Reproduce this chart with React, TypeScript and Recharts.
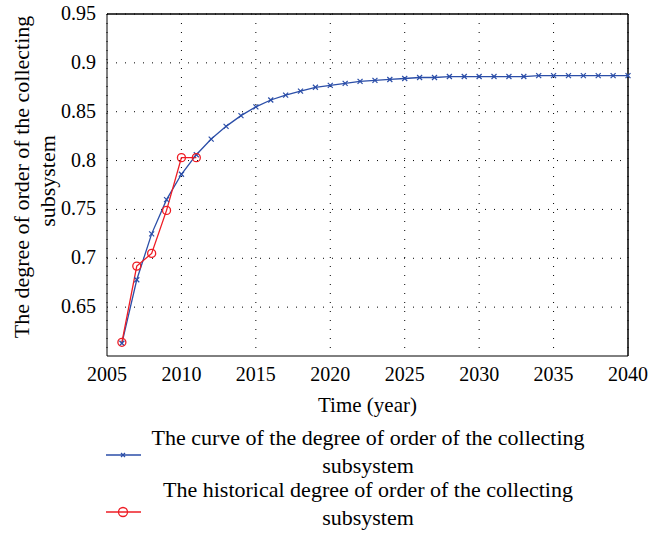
import React from 'react';
import { LineChart, Line, XAxis, YAxis, CartesianGrid, Legend, ReferenceLine } from 'recharts';

const years = [
    2006, 2007, 2008, 2009, 2010, 2011, 2012, 2013, 2014, 2015, 2016, 2017,
    2018, 2019, 2020, 2021, 2022, 2023, 2024, 2025, 2026, 2027, 2028, 2029,
    2030, 2031, 2032, 2033, 2034, 2035, 2036, 2037, 2038, 2039, 2040,
];
const curveValues = [
    0.613, 0.678, 0.725, 0.760, 0.786, 0.806, 0.822, 0.835, 0.846, 0.855, 0.862, 0.867,
    0.871, 0.875, 0.877, 0.879, 0.881, 0.882, 0.883, 0.884, 0.885, 0.885, 0.886, 0.886,
    0.886, 0.886, 0.886, 0.886, 0.887, 0.887, 0.887, 0.887, 0.887, 0.887, 0.887,
];
const historyYears = [2006, 2007, 2008, 2009, 2010, 2011];
const historyValues = [0.614, 0.692, 0.705, 0.749, 0.803, 0.803];

const xTicks = [2005, 2010, 2015, 2020, 2025, 2030, 2035, 2040];
const yTicks = [0.65, 0.7, 0.75, 0.8, 0.85, 0.9, 0.95];

const curveName = 'The curve of the degree of order of the collecting subsystem';
const historyName = 'The historical degree of order of the collecting subsystem';

const BLUE = '#2b4ea8';
const RED = '#ee1c24';
const SERIF = 'Liberation Serif';

// table the chart needs: one row per year
const data = years.map((y, i) => {
    const h = historyYears.indexOf(y);
    return { year: y, curve: curveValues[i], history: h >= 0 ? historyValues[h] : null };
});

const CrossDot = (props: any) => {
    const { cx, cy } = props;
    if (cx == null || cy == null) return null;
    const s = 2.5;
    return (
        <g>
            <line x1={cx - s} y1={cy - s} x2={cx + s} y2={cy + s} stroke={BLUE} strokeWidth={1.2} />
            <line x1={cx - s} y1={cy + s} x2={cx + s} y2={cy - s} stroke={BLUE} strokeWidth={1.2} />
        </g>
    );
};

const YLabel = () => {
    const cy = 177;
    return (
        <g>
            <text x={29} y={cy} transform={`rotate(-90, 29, ${cy})`} textAnchor="middle" fontFamily={SERIF} fontSize={22} fill="#000">
                The degree of order of the collecting
            </text>
            <text x={55} y={181} transform={`rotate(-90, 55, 181)`} textAnchor="middle" fontFamily={SERIF} fontSize={22} fill="#000">
                subsystem
            </text>
        </g>
    );
};

const XTick = (props: any) => {
    const { x, y, payload } = props;
    return (
        <text x={x} y={y + 17} textAnchor="middle" fontFamily={SERIF} fontSize={20} fill="#000">
            {payload.value}
        </text>
    );
};

const YTick = (props: any) => {
    const { x, y, payload } = props;
    return (
        <text x={x} y={y + 6} textAnchor="end" fontFamily={SERIF} fontSize={20} fill="#000">
            {String(payload.value)}
        </text>
    );
};

const XLabel = (props: any) => {
    const { viewBox } = props;
    const cx = viewBox.x + viewBox.width / 2;
    return (
        <text x={cx} y={412} textAnchor="middle" fontFamily={SERIF} fontSize={21} fill="#000">
            Time (year)
        </text>
    );
};

const LegendBox = () => {
    const entry = (label: string, color: string, marker: 'x' | 'o', top: number, markerY: number) => {
        const words = label.split(' ');
        const first = words.slice(0, -1).join(' ');
        const last = words[words.length - 1];
        return (
            <div style={{ position: 'absolute', top, left: 0, width: 649, height: 56 }}>
                <svg width={40} height={56} style={{ position: 'absolute', left: 104, top: 0 }}>
                    <line x1={2} y1={markerY} x2={37} y2={markerY} stroke={color} strokeWidth={1.3} />
                    {marker === 'x' ? (
                        <g>
                            <line x1={17} y1={markerY - 2} x2={21} y2={markerY + 2} stroke={color} strokeWidth={1.2} />
                            <line x1={17} y1={markerY + 2} x2={21} y2={markerY - 2} stroke={color} strokeWidth={1.2} />
                        </g>
                    ) : (
                        <circle cx={19} cy={markerY} r={4.5} fill="none" stroke={color} strokeWidth={1.3} />
                    )}
                </svg>
                <div style={{ position: 'absolute', left: 148, width: 440, top: 0, textAlign: 'center', fontFamily: SERIF, fontSize: 22, lineHeight: '28px', color: '#000' }}>
                    <div>{first}</div>
                    <div>{last}</div>
                </div>
            </div>
        );
    };
    return (
        <div style={{ position: 'relative', width: 649, height: 110 }}>
            {entry(curveName, BLUE, 'x', 0, 31)}
            {entry(historyName, RED, 'o', 52, 36)}
        </div>
    );
};

export default function App() {
    return (
        <div style={{ position: 'absolute', left: 0, top: 0, background: '#fff' }}>
            <LineChart width={649} height={533} data={data} margin={{ top: 14, right: 21, left: 0, bottom: 7 }}>
                <CartesianGrid stroke="#000" strokeDasharray="1 8" strokeWidth={1} horizontalValues={yTicks} verticalValues={xTicks} />
                <XAxis
                    dataKey="year"
                    type="number"
                    domain={[2005, 2040]}
                    ticks={xTicks}
                    height={60}
                    stroke="#000"
                    tickLine={false}
                    tick={<XTick />}
                    label={<XLabel />}
                />
                <YAxis
                    type="number"
                    domain={[0.6, 0.95]}
                    ticks={yTicks}
                    width={107}
                    stroke="#000"
                    tickLine={false}
                    tickMargin={5}
                    tick={<YTick />}
                    label={<YLabel />}
                />
                <ReferenceLine y={0.95} stroke="#000" strokeWidth={1.5} />
                <ReferenceLine x={2040} stroke="#000" strokeWidth={1.5} />
                <Legend verticalAlign="bottom" content={<LegendBox />} wrapperStyle={{ left: 0, top: 424, width: 649 }} />
                <Line
                    name={curveName}
                    dataKey="curve"
                    stroke={BLUE}
                    strokeWidth={1.3}
                    dot={<CrossDot />}
                    activeDot={false}
                    isAnimationActive={false}
                />
                <Line
                    name={historyName}
                    dataKey="history"
                    stroke={RED}
                    strokeWidth={1.3}
                    dot={{ r: 4, stroke: RED, strokeWidth: 1.3, fill: 'none' }}
                    activeDot={false}
                    isAnimationActive={false}
                />
            </LineChart>
        </div>
    );
}
